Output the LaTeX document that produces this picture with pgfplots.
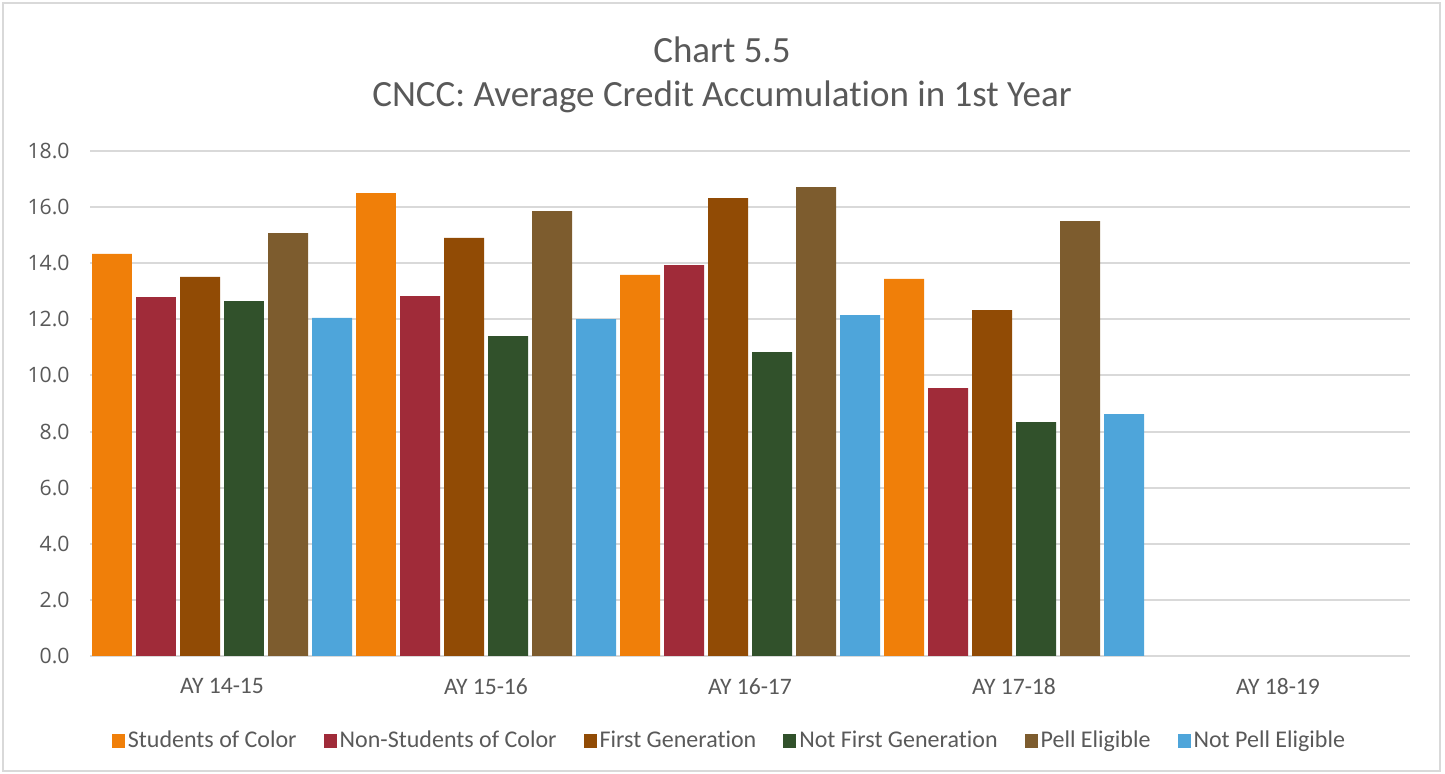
\documentclass[border=0pt]{standalone}
\usepackage{fontspec}
\setmainfont{Carlito}[Ligatures=NoCommon]
\newfontfamily\tickfont{Open Sans}
\usepackage{pgfplots}
\pgfplotsset{compat=1.18}
\definecolor{txt}{HTML}{595959}
\definecolor{gridc}{HTML}{D9D9D9}
\definecolor{soc}{HTML}{F07F09}
\definecolor{nsoc}{HTML}{A02B39}
\definecolor{fgen}{HTML}{914B05}
\definecolor{nfgen}{HTML}{31512B}
\definecolor{pell}{HTML}{7D5C2E}
\definecolor{npell}{HTML}{4EA5DA}

\pgfplotsset{
  mybar/.style={ybar, bar width=0.1515, bar shift=#1, draw=none,
    legend image code/.code={\fill[##1] (0pt,-3.3pt) rectangle (6.5pt,3.3pt);}},
}

\begin{document}
\begin{tikzpicture}
\path (-45pt,-59pt) rectangle (677.5pt,328pt);
\draw[gridc, line width=1pt] (-43.5pt,-57.5pt) rectangle (675pt,326.5pt);
\node[txt, font=\fontsize{18.5}{20}\selectfont] at (316pt,303pt) {Chart 5.5};
\node[txt, font=\fontsize{18.5}{20}\selectfont] at (316pt,279.5pt) {CNCC: Average Credit Accumulation in 1st Year};
\begin{axis}[
  at={(0pt,0pt)}, anchor=south west,
  scale only axis, width=660pt, height=252.5pt,
  xmin=-0.5, xmax=4.5, ymin=0, ymax=18,
  xtick={0,1,2,3,4},
  xticklabels={AY 14-15,AY 15-16,AY 16-17,AY 17-18,AY 18-19},
  ytick={0,2,...,18},
  yticklabels={0.0,2.0,4.0,6.0,8.0,10.0,12.0,14.0,16.0,18.0},
  ymajorgrids, grid style={gridc, line width=1pt},
  axis line style={draw=none}, tick style={draw=none},
  xticklabel style={font=\fontsize{11.8}{13}\selectfont, txt, inner sep=0pt, yshift=-11pt},
  yticklabel style={font=\tickfont\fontsize{10.6}{12}\selectfont, txt, inner sep=0pt, xshift=-10pt},
  legend columns=6,
  legend style={at={(axis description cs:0.4848,-0.1683)}, anchor=center, draw=none, fill=none,
    font=\fontsize{12}{14}\selectfont, text=txt, inner sep=0pt,
    /tikz/every even column/.append style={column sep=12pt},
    nodes={inner sep=1.5pt}},
]
\addplot[mybar=-0.41667, fill=soc] coordinates {(0,14.33) (1,16.50) (2,13.58) (3,13.44)};
\addlegendentry{Students of Color}
\addplot[mybar=-0.25, fill=nsoc] coordinates {(0,12.79) (1,12.83) (2,13.93) (3,9.55)};
\addlegendentry{Non-Students of Color}
\addplot[mybar=-0.08333, fill=fgen] coordinates {(0,13.51) (1,14.90) (2,16.32) (3,12.33)};
\addlegendentry{First Generation}
\addplot[mybar=0.08333, fill=nfgen] coordinates {(0,12.65) (1,11.40) (2,10.83) (3,8.34)};
\addlegendentry{Not First Generation}
\addplot[mybar=0.25, fill=pell] coordinates {(0,15.07) (1,15.86) (2,16.71) (3,15.50)};
\addlegendentry{Pell Eligible}
\addplot[mybar=0.41667, fill=npell] coordinates {(0,12.05) (1,12.01) (2,12.15) (3,8.62)};
\addlegendentry{Not Pell Eligible}
\end{axis}
\end{tikzpicture}
\end{document}
